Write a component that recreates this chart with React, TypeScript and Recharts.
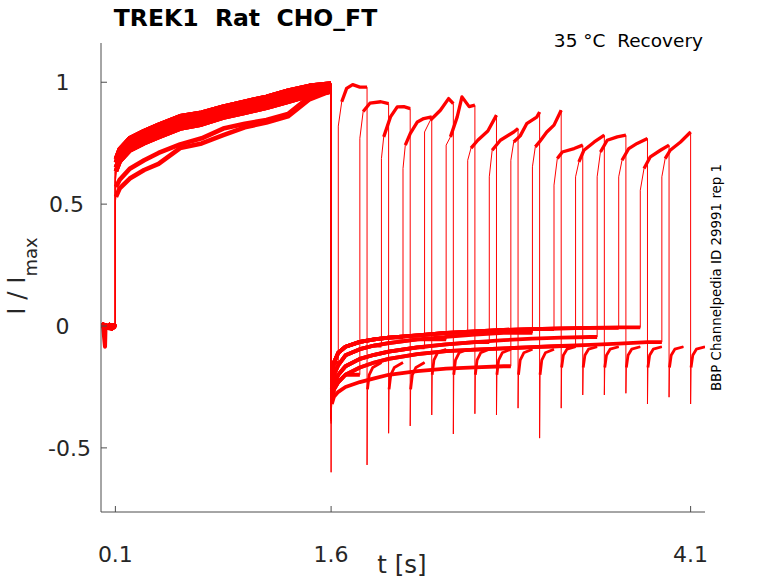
import React from 'react';
import { LineChart, Line, XAxis, YAxis } from 'recharts';

// ---------- data ----------
const xTicks = [0.1, 1.6, 4.1];
const xTickLabels = ['0.1', '1.6', '4.1'];
const yTicks = [-0.5, 0, 0.5, 1];
const yTickLabels = ['-0.5', '0', '0.5', '1'];

// holding segment 0 - 0.1 s
const baselineT = [0, 0.015, 0.028, 0.031, 0.045, 0.06, 0.075, 0.09, 0.1];
const baselineDip = [0.004, -0.006, -0.085, -0.012, 0.002, -0.01, 0.004, -0.006, -0.012];
const baselineFlat = [-0.004, 0.006, -0.008, 0.003, -0.006, 0.005, -0.01, 0.004, -0.004];

// first (conditioning) pulse 0.1 - 1.6 s
const pulse1T = [0.1, 0.104, 0.13, 0.2, 0.3, 0.4, 0.55, 0.7, 0.85, 1.0, 1.15, 1.3, 1.45, 1.6];
const pulse1A = [0.645, 0.685, 0.725, 0.77, 0.8, 0.825, 0.86, 0.875, 0.9, 0.92, 0.94, 0.965, 0.985, 0.995];
const pulse1B = [0.63, 0.67, 0.71, 0.755, 0.785, 0.81, 0.843, 0.86, 0.888, 0.908, 0.928, 0.953, 0.972, 0.988];
const pulse1C = [0.61, 0.65, 0.69, 0.735, 0.765, 0.79, 0.825, 0.842, 0.87, 0.89, 0.91, 0.935, 0.957, 0.972];
const pulse1D = [0.59, 0.635, 0.675, 0.72, 0.75, 0.775, 0.81, 0.827, 0.855, 0.875, 0.895, 0.92, 0.945, 0.962];
const pulse1E = [0.55, 0.57, 0.6, 0.645, 0.68, 0.71, 0.745, 0.77, 0.81, 0.83, 0.845, 0.87, 0.94, 0.975];
const pulse1F = [0.51, 0.53, 0.565, 0.605, 0.64, 0.665, 0.73, 0.749, 0.783, 0.815, 0.835, 0.86, 0.93, 0.965];

// recovery interval (tail current)
const tailT = [1.6, 1.605, 1.62, 1.65, 1.7, 1.8, 1.9, 2.0, 2.2, 2.4, 2.6, 2.8, 3.0, 3.2, 3.4, 3.6, 3.8, 3.9];
const tailUpperA = [-0.28, -0.2, -0.15, -0.11, -0.085, -0.065, -0.055, -0.048, -0.038, -0.028, -0.022, -0.016, -0.013, -0.01, -0.008, -0.006, -0.004, -0.004];
const tailUpperB = [-0.32, -0.26, -0.2, -0.16, -0.12, -0.095, -0.08, -0.07, -0.055, -0.045, -0.035, -0.028, -0.022, -0.018, -0.015, -0.012, -0.01, -0.01];
const tailMid = [-0.34, -0.29, -0.24, -0.2, -0.165, -0.135, -0.118, -0.105, -0.088, -0.075, -0.066, -0.058, -0.052, -0.048, -0.045, -0.042, -0.04, -0.04];
const tailLower = [-0.35, -0.3, -0.26, -0.23, -0.2, -0.17, -0.15, -0.135, -0.115, -0.103, -0.097, -0.092, -0.087, -0.082, -0.077, -0.072, -0.066, -0.062];
const tailLow = [-0.36, -0.32, -0.29, -0.27, -0.25, -0.23, -0.215, -0.2, -0.185, -0.175, -0.17, -0.165, -0.16, -0.16, -0.16, -0.16, -0.16, -0.16];

// second (test) pulse: start times and [offset, value] profiles per sweep
const riseTimes = [1.65, 1.8, 1.95, 2.1, 2.25, 2.4, 2.55, 2.7, 2.85, 3.0, 3.15, 3.3, 3.45, 3.6, 3.75, 3.9];
const pulse2 = [
  [[0, 0.82], [0.024, 0.92], [0.058, 0.975], [0.1, 0.99], [0.15, 0.98], [0.2, 0.98]],
  [[0, 0.77], [0.023, 0.88], [0.07, 0.914], [0.146, 0.92], [0.2, 0.912]],
  [[0, 0.687], [0.016, 0.776], [0.063, 0.858], [0.11, 0.899], [0.156, 0.9], [0.2, 0.892]],
  [[0, 0.646], [0.016, 0.742], [0.051, 0.79], [0.1, 0.837], [0.144, 0.851], [0.2, 0.858]],
  [[0, 0.796], [0.04, 0.844], [0.11, 0.885], [0.167, 0.933], [0.2, 0.912]],
  [[0, 0.742], [0.03, 0.776], [0.077, 0.858], [0.11, 0.94], [0.16, 0.9], [0.2, 0.906]],
  [[0, 0.68], [0.023, 0.73], [0.07, 0.762], [0.14, 0.8], [0.2, 0.865]],
  [[0, 0.612], [0.02, 0.721], [0.077, 0.762], [0.17, 0.796], [0.2, 0.81]],
  [[0, 0.68], [0.02, 0.755], [0.065, 0.78], [0.11, 0.83], [0.18, 0.857], [0.2, 0.878]],
  [[0, 0.653], [0.02, 0.735], [0.055, 0.76], [0.1, 0.796], [0.15, 0.824], [0.2, 0.885]],
  [[0, 0.578], [0.023, 0.687], [0.058, 0.714], [0.14, 0.728], [0.2, 0.742]],
  [[0, 0.612], [0.023, 0.673], [0.058, 0.721], [0.13, 0.755], [0.2, 0.783]],
  [[0, 0.612], [0.023, 0.714], [0.07, 0.762], [0.14, 0.776], [0.2, 0.783]],
  [[0, 0.612], [0.023, 0.68], [0.07, 0.728], [0.128, 0.749], [0.2, 0.769]],
  [[0, 0.557], [0.026, 0.646], [0.07, 0.694], [0.14, 0.721], [0.2, 0.742]],
  [[0, 0.612], [0.023, 0.687], [0.058, 0.721], [0.13, 0.755], [0.2, 0.796]],
];

// minimum of the capacitive spikes
const dropMins = [-0.6, -0.38, -0.35, -0.33, -0.37, -0.34, -0.36, -0.38, -0.4, -0.35, -0.34, -0.39, -0.36, -0.33, -0.35, -0.37];
const spikeMins = [-0.57, -0.44, -0.41, -0.365, -0.443, -0.36, -0.365, -0.337, -0.46, -0.337, -0.283, -0.283, -0.276, -0.32, -0.292, -0.32];

// tail after the test pulse
const postDt = [0.003, 0.015, 0.04, 0.1];
const postEarly = [-0.26, -0.2, -0.17, -0.15];
const postMid = [-0.2, -0.14, -0.11, -0.095];
const postLate = [-0.17, -0.12, -0.095, -0.085];

// which recorded profile each sweep follows
const pulse1Profiles = [pulse1A, pulse1B, pulse1C, pulse1D, pulse1E, pulse1F];
const pulse1Assign = [0, 1, 2, 3, 0, 1, 2, 3, 4, 0, 1, 5, 2, 3, 0, 1];
const tailProfiles = [tailUpperA, tailUpperB, tailMid, tailLower, tailLow];
const tailAssign = [0, 3, 1, 0, 2, 1, 0, 2, 4, 1, 0, 3, 2, 0, 0, 3];
const postProfiles = [postEarly, postMid, postLate];
const postAssign = [0, 0, 0, 1, 1, 1, 1, 1, 1, 2, 2, 2, 2, 2, 2, 2];

// ---------- build series ----------
type P = { t: number; y: number };

function buildSweep(i: number) {
  const baseVals = i === 0 ? baselineDip : baselineFlat;
  const base: P[] = baselineT.map((t, j) => ({ t, y: baseVals[j] }));
  const p1v = pulse1Profiles[pulse1Assign[i]];
  const p1: P[] = pulse1T.map((t, j) => ({ t, y: p1v[j] }));
  const tv = tailProfiles[tailAssign[i]];
  const rise = riseTimes[i];
  const tail: P[] = [];
  tailT.forEach((t, j) => {
    if (t < rise - 1e-9) tail.push({ t, y: tv[j] });
  });
  tail.push({ t: rise, y: tail[tail.length - 1].y });
  const p2: P[] = pulse2[i].map(([dt, y]) => ({ t: rise + dt, y }));
  const fall = p2[p2.length - 1].t;
  const pv = postProfiles[postAssign[i]];
  const post: P[] = [{ t: fall, y: spikeMins[i] }].concat(
    postDt.map((dt, j) => ({ t: fall + dt, y: pv[j] }))
  );
  const full: P[] = [...base, ...p1, { t: 1.6, y: dropMins[i] }, ...tail, ...p2, ...post];
  return { full, base, p1, tail: tail.slice(1), p2, post: post.slice(1) };
}

const sweeps = riseTimes.map((_, i) => buildSweep(i));

// ---------- styles ----------
const RED = '#ff0000';
const INK = '#262626';
const AXIS = '#4d4d4d';
const FONT = '"DejaVu Sans", Verdana, sans-serif';
const yLabelDx: Record<string, number> = { '-0.5': -31.5, '0': -38.5, '0.5': -34.5, '1': -38.5 };

const XTick = (props: any) => {
  const { x, y, payload } = props;
  const idx = xTicks.indexOf(payload.value);
  return (
    <g>
      <line x1={x} x2={x} y1={y} y2={y - 6} stroke={AXIS} strokeWidth={1} />
      <text x={x} y={y + 50} textAnchor="middle" fontSize={22} fill={INK} fontFamily={FONT}>
        {xTickLabels[idx]}
      </text>
    </g>
  );
};

const YTick = (props: any) => {
  const { x, y, payload } = props;
  const idx = yTicks.indexOf(payload.value);
  const label = yTickLabels[idx];
  return (
    <g>
      <line x1={x} x2={x + 6} y1={y} y2={y} stroke={AXIS} strokeWidth={1} />
      <text x={x + (yLabelDx[label] ?? -35)} y={y + 8} textAnchor="middle" fontSize={22} fill={INK} fontFamily={FONT}>
        {label}
      </text>
    </g>
  );
};

const common = { dataKey: 'y', type: 'linear' as const, stroke: RED, dot: false, activeDot: false, isAnimationActive: false, strokeLinejoin: 'round' as const };

export default function App() {
  const lines: React.ReactNode[] = [];
  sweeps.forEach((s, i) => {
    lines.push(<Line key={`full-${i}`} {...common} data={s.full} strokeWidth={1} />);
  });
  sweeps.forEach((s, i) => {
    lines.push(
      <Line key={`base-${i}`} {...common} data={s.base} strokeWidth={4} />,
      <Line key={`p1-${i}`} {...common} data={s.p1.slice(1)} strokeWidth={4.6} />,
      <Line key={`tail-${i}`} {...common} data={s.tail} strokeWidth={3.8} />,
      <Line key={`p2-${i}`} {...common} data={s.p2.slice(1)} strokeWidth={3.3} />,
      <Line key={`post-${i}`} {...common} data={s.post} strokeWidth={2.8} />
    );
  });

  return (
    <div style={{ position: 'absolute', left: 0, top: 0, width: 778, height: 583, background: '#fff' }}>
      <LineChart width={778} height={583} margin={{ top: 43, right: 73, bottom: 0, left: 0 }}>
        <XAxis
          dataKey="t"
          type="number"
          domain={[0, 4.2]}
          ticks={xTicks}
          allowDataOverflow
          height={71}
          tickSize={0}
          tickMargin={0}
          tickLine={false}
          axisLine={{ stroke: AXIS, strokeWidth: 1 }}
          tick={<XTick />}
          interval={0}
        />
        <YAxis
          type="number"
          domain={[-0.763, 1.161]}
          ticks={yTicks}
          allowDataOverflow
          width={101}
          tickSize={0}
          tickMargin={0}
          tickLine={false}
          axisLine={{ stroke: AXIS, strokeWidth: 1 }}
          tick={<YTick />}
          interval={0}
        />
        {lines}
      </LineChart>
      <svg width={778} height={583} style={{ position: 'absolute', left: 0, top: 0, pointerEvents: 'none' }}>
        <text x={245.5} y={26} textAnchor="middle" fontSize={23.5} fontWeight="bold" fill="#000"
          fontFamily={FONT} style={{ whiteSpace: 'pre' }}>
          {'TREK1  Rat  CHO_FT'}
        </text>
        <text x={703} y={47} textAnchor="end" fontSize={18.5} fill="#000" fontFamily={FONT}
          style={{ whiteSpace: 'pre' }}>
          {'35 °C  Recovery'}
        </text>
        <text x={402} y={573} textAnchor="middle" fontSize={24.5} fill={INK} fontFamily={FONT}>
          t [s]
        </text>
        <text transform="translate(25,276) rotate(-90)" textAnchor="middle" fontSize={24.5} fill={INK}
          fontFamily={FONT} style={{ whiteSpace: 'pre' }}>
          <tspan>{'I / I'}</tspan>
          <tspan fontSize={18} dy={12}>max</tspan>
        </text>
        <text transform="translate(721,277.5) rotate(-90)" textAnchor="middle" fontSize={13.4} fill="#000"
          fontFamily={FONT}>
          BBP Channelpedia ID 29991 rep 1
        </text>
      </svg>
    </div>
  );
}
